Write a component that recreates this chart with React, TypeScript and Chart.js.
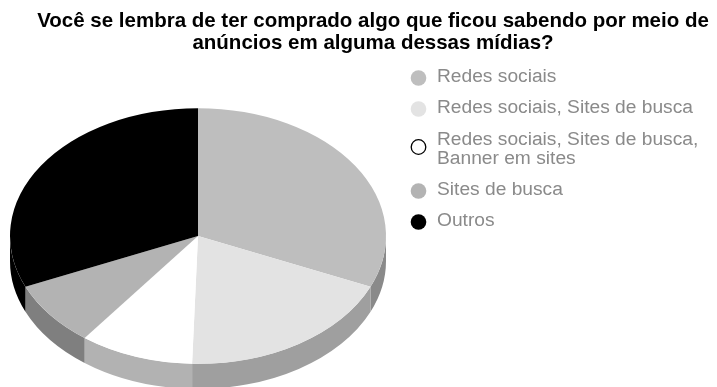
import React, { useEffect, useRef } from "react";
import { Chart, registerables } from "chart.js";

Chart.register(...registerables);

const titleLines = [
  "Você se lembra de ter comprado algo que ficou sabendo por meio de",
  "anúncios em alguma dessas mídias?",
];
const categories = [
  "Redes sociais",
  "Redes sociais, Sites de busca",
  "Redes sociais, Sites de busca, Banner em sites",
  "Sites de busca",
  "Outros",
];
const shareValues = [31.5, 19.0, 9.8, 8.2, 31.5];
const sliceColors = ["#bebebe", "#e3e3e3", "#ffffff", "#b3b3b3", "#000000"];
const wallColors = ["#8a8a8a", "#9f9f9f", "#b2b2b2", "#7f7f7f", "#000000"];
const legendLines = [
  ["Redes sociais"],
  ["Redes sociais, Sites de busca"],
  ["Redes sociais, Sites de busca,", "Banner em sites"],
  ["Sites de busca"],
  ["Outros"],
];

// Tilted-disc projection of the pie
const PIE_RADIUS = 188;
const PIE_CENTER_X = 198;
const PIE_CENTER_Y = 236;
const TILT = 0.68;
const DEPTH = 25;

const tiltedPie = {
  id: "tiltedPie",
  beforeDatasetDraw(chart: any, args: any) {
    const { ctx } = chart;
    const arcs = args.meta.data;
    const ry = PIE_RADIUS * TILT;
    // Rim of the disc: only the angles between 0 and PI face the viewer
    arcs.forEach((arc: any, i: number) => {
      const from = Math.max(arc.startAngle, 0);
      const to = Math.min(arc.endAngle, Math.PI);
      if (to <= from) return;
      ctx.beginPath();
      ctx.ellipse(PIE_CENTER_X, PIE_CENTER_Y, PIE_RADIUS, ry, 0, from, to);
      ctx.ellipse(PIE_CENTER_X, PIE_CENTER_Y + DEPTH, PIE_RADIUS, ry, 0, to, from, true);
      ctx.closePath();
      ctx.fillStyle = wallColors[i];
      ctx.fill();
    });
    ctx.save();
    ctx.translate(PIE_CENTER_X, PIE_CENTER_Y);
    ctx.scale(1, TILT);
    ctx.translate(-arcs[0].x, -arcs[0].y);
  },
  afterDatasetDraw(chart: any) {
    chart.ctx.restore();
  },
};

const sideLegend = {
  id: "sideLegend",
  afterDraw(chart: any) {
    const { ctx } = chart;
    const rows = [
      { lineYs: [77], dotY: 78 },
      { lineYs: [108], dotY: 109 },
      { lineYs: [140, 159], dotY: 147 },
      { lineYs: [190], dotY: 191 },
      { lineYs: [221], dotY: 222 },
    ];
    ctx.save();
    ctx.font = "19.2px 'Liberation Sans', Arial, sans-serif";
    ctx.textBaseline = "middle";
    ctx.textAlign = "left";
    rows.forEach((row, i) => {
      ctx.beginPath();
      const white = sliceColors[i] === "#ffffff";
      ctx.arc(418.5, row.dotY, white ? 7.3 : 7.8, 0, Math.PI * 2);
      ctx.fillStyle = sliceColors[i];
      ctx.fill();
      if (white) {
        ctx.strokeStyle = "#000000";
        ctx.lineWidth = 1.3;
        ctx.stroke();
      }
      ctx.fillStyle = "#8a8a8a";
      legendLines[i].forEach((line, j) => ctx.fillText(line, 437, row.lineYs[j]));
    });
    ctx.restore();
  },
};

export default function App() {
  const canvasRef = useRef<HTMLCanvasElement>(null);

  useEffect(() => {
    document.body.style.margin = "0";
    const chart = new Chart(canvasRef.current as HTMLCanvasElement, {
      type: "pie",
      data: {
        labels: categories,
        datasets: [
          {
            data: shareValues,
            backgroundColor: sliceColors,
            borderWidth: 0,
            radius: PIE_RADIUS,
            clip: false,
          } as any,
        ],
      },
      options: {
        responsive: false,
        animation: false,
        events: [],
        layout: { padding: { left: 29 } },
        plugins: {
          legend: { display: false },
          tooltip: { enabled: false },
          title: {
            display: true,
            text: titleLines,
            color: "#000000",
            font: { family: "'Liberation Sans', Arial, sans-serif", size: 20.5, weight: "bold", lineHeight: 1.05 },
            padding: { top: 11, bottom: 0 },
          },
        },
      },
      plugins: [tiltedPie, sideLegend],
    });
    return () => chart.destroy();
  }, []);

  return <canvas ref={canvasRef} width={717} height={387} style={{ display: "block" }} />;
}
